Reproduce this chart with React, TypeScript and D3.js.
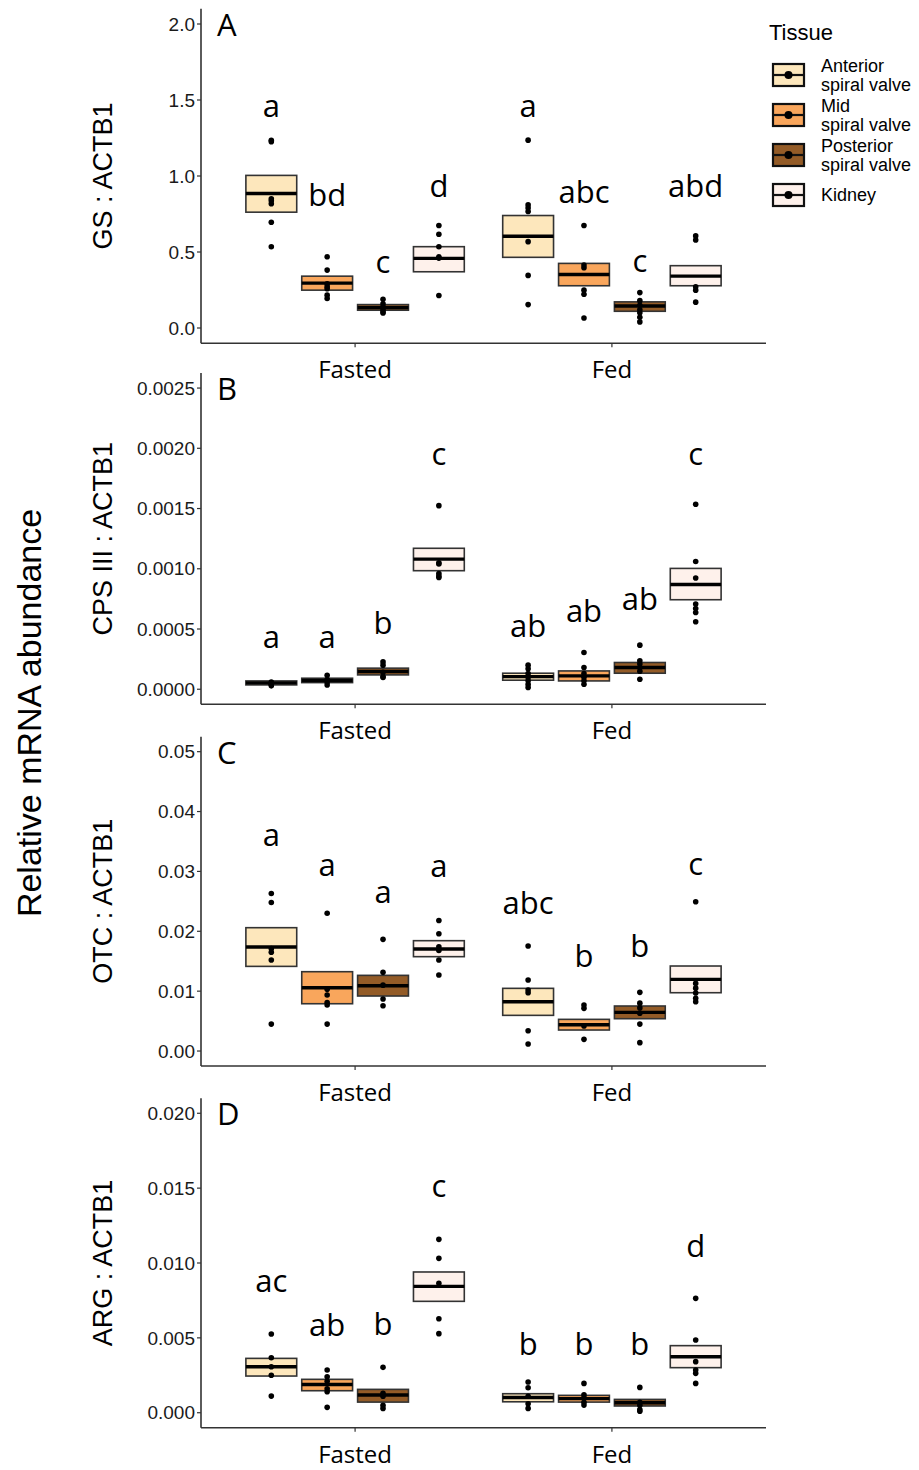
import React, { useEffect, useRef } from "react";
import * as d3 from "d3";

const conditions = ["Fasted", "Fed"];
const tissues = ["Anterior spiral valve", "Mid spiral valve", "Posterior spiral valve", "Kidney"];
const tissueLegend = [["Anterior", "spiral valve"], ["Mid", "spiral valve"], ["Posterior", "spiral valve"], ["Kidney"]];
const tissueColors = ["#FDE7BC", "#F9A65C", "#935B27", "#FEF1EB"];

// boxes: [lower, mean, upper] per condition, per tissue
const gsBoxes = [
  [[0.762, 0.885, 1.004], [0.249, 0.295, 0.341], [0.117, 0.134, 0.154], [0.37, 0.458, 0.535]],
  [[0.465, 0.604, 0.74], [0.278, 0.352, 0.425], [0.11, 0.145, 0.172], [0.278, 0.341, 0.41]],
];
const gsPoints = [
  [[1.235, 1.225, 0.85, 0.837, 0.817, 0.696, 0.535], [0.469, 0.381, 0.29, 0.271, 0.258, 0.216, 0.194], [0.189, 0.16, 0.14, 0.12, 0.105, 0.099], [0.674, 0.617, 0.535, 0.469, 0.46, 0.214]],
  [[1.236, 0.81, 0.789, 0.766, 0.568, 0.346, 0.154], [0.674, 0.414, 0.396, 0.249, 0.222, 0.066], [0.233, 0.18, 0.15, 0.12, 0.1, 0.07, 0.04], [0.606, 0.579, 0.271, 0.249, 0.17]],
];
const gsLetters = [["a", "bd", "c", "d"], ["a", "abc", "c", "abd"]];
const gsLetterY = [[1.39, 0.8, 0.36, 0.86], [1.39, 0.82, 0.37, 0.86]];

const cpsBoxes = [
  [[0.000036, 0.000053, 0.000069], [0.000055, 0.000072, 0.0000915], [0.000119, 0.000147, 0.000175], [0.000984, 0.00108, 0.00117]],
  [[0.000075, 0.000105, 0.000133], [0.000069, 0.000111, 0.000152], [0.000133, 0.00018, 0.000222], [0.000743, 0.00087, 0.001003]],
];
const cpsPoints = [
  [[0.00006, 0.00005, 0.000045, 0.00004, 0.000028], [0.000116, 0.00008, 0.00006, 0.000036], [0.000227, 0.0002, 0.00014, 0.000105, 0.000097], [0.001524, 0.00104, 0.00105, 0.00096, 0.00094, 0.000928]],
  [[0.0002, 0.00017, 0.00013, 0.0001, 0.00007, 0.00004, 0.000014], [0.000305, 0.00018, 0.00013, 0.0001, 0.00007, 0.000042], [0.000366, 0.000236, 0.00021, 0.00015, 0.000083], [0.001535, 0.00106, 0.000923, 0.000707, 0.00067, 0.000637, 0.00056]],
];
const cpsLetters = [["a", "a", "b", "c"], ["ab", "ab", "ab", "c"]];
const cpsLetterY = [[0.00034, 0.00034, 0.000455, 0.00186], [0.00043, 0.000554, 0.00066, 0.00186]];

const otcBoxes = [
  [[0.01414, 0.01737, 0.0206], [0.0079, 0.01058, 0.01325], [0.00919, 0.01091, 0.01264], [0.01576, 0.01704, 0.01843]],
  [[0.00596, 0.00824, 0.01047], [0.00351, 0.0044, 0.00529], [0.0054, 0.00646, 0.00752], [0.00974, 0.01197, 0.0142]],
];
const otcPoints = [
  [[0.0263, 0.0248, 0.0171, 0.0165, 0.0152, 0.0045], [0.023, 0.0103, 0.00935, 0.0081, 0.0077, 0.0045], [0.01865, 0.01314, 0.011, 0.0087, 0.00757], [0.0218, 0.0196, 0.0174, 0.0168, 0.0152, 0.0127]],
  [[0.01754, 0.01186, 0.0102, 0.00974, 0.0034, 0.00117], [0.00768, 0.00713, 0.0042, 0.00195], [0.0098, 0.008, 0.0072, 0.0063, 0.0045, 0.0014], [0.02494, 0.0113, 0.0105, 0.0097, 0.0088, 0.00824]],
];
const otcLetters = [["a", "a", "a", "a"], ["abc", "b", "b", "c"]];
const otcLetterY = [[0.03424, 0.02923, 0.02478, 0.029], [0.02288, 0.01398, 0.01576, 0.0294]];

const argBoxes = [
  [[0.00245, 0.00307, 0.00363], [0.00147, 0.00189, 0.00223], [0.00071, 0.00118, 0.00156], [0.00744, 0.00844, 0.0094]],
  [[0.00073, 0.00102, 0.00127], [0.00071, 0.00094, 0.00116], [0.00045, 0.00067, 0.00089], [0.00301, 0.00374, 0.00448]],
];
const argPoints = [
  [[0.00526, 0.00367, 0.00307, 0.0025, 0.00111], [0.00285, 0.0024, 0.0021, 0.0016, 0.0014, 0.00036], [0.00303, 0.0013, 0.0011, 0.0005, 0.00029], [0.01158, 0.01031, 0.00864, 0.00628, 0.00528]],
  [[0.00205, 0.00167, 0.0011, 0.0006, 0.00029], [0.00196, 0.0012, 0.001, 0.0007, 0.00051], [0.00169, 0.0007, 0.0005, 0.00022, 0.0001], [0.00764, 0.00486, 0.00341, 0.00285, 0.00263, 0.00196]],
];
const argLetters = [["ac", "ab", "b", "c"], ["b", "b", "b", "d"]];
const argLetterY = [[0.00804, 0.00512, 0.00519, 0.01439], [0.00385, 0.00385, 0.00385, 0.01042]];

const panels = [
  { tag: "A", title: "GS : ACTB1", max: 2, ticks: [0, 0.5, 1, 1.5, 2], fmt: ".1f", boxes: gsBoxes, points: gsPoints, letters: gsLetters, letterY: gsLetterY, top: 8.8, height: 334.4 },
  { tag: "B", title: "CPS III : ACTB1", max: 0.0025, ticks: [0, 0.0005, 0.001, 0.0015, 0.002, 0.0025], fmt: ".4f", boxes: cpsBoxes, points: cpsPoints, letters: cpsLetters, letterY: cpsLetterY, top: 373, height: 331.3 },
  { tag: "C", title: "OTC : ACTB1", max: 0.05, ticks: [0, 0.01, 0.02, 0.03, 0.04, 0.05], fmt: ".2f", boxes: otcBoxes, points: otcPoints, letters: otcLetters, letterY: otcLetterY, top: 736.7, height: 329.3 },
  { tag: "D", title: "ARG : ACTB1", max: 0.02, ticks: [0, 0.005, 0.01, 0.015, 0.02], fmt: ".3f", boxes: argBoxes, points: argPoints, letters: argLetters, letterY: argLetterY, top: 1098.3, height: 329.4 },
];

const W = 919;
const H = 1470;
const left = 201;
const right = 766;
const sans = "'Liberation Sans', Arial, sans-serif";
const calib = "'Open Sans', 'Noto Sans', sans-serif";
const axisColor = "#333";

function App() {
  const ref = useRef(null);

  useEffect(() => {
    if (!ref.current) return;
    ref.current.innerHTML = "";

    const svg = d3
      .select(ref.current)
      .append("svg")
      .attr("width", W)
      .attr("height", H)
      .style("position", "absolute")
      .style("left", 0)
      .style("top", 0)
      .style("background", "#fff");

    const x = d3.scalePoint().domain(conditions).range([left, right]).padding(0.6);
    const step = x.step();
    const dodge = d3.scaleBand().domain(tissues).range([-0.435 * step, 0.435 * step]);
    const boxW = dodge.bandwidth() * 0.91;

    panels.forEach((p) => {
      const y = d3
        .scaleLinear()
        .domain([-p.max * 0.05, p.max * 1.05])
        .range([p.top + p.height, p.top]);
      const bottom = p.top + p.height;
      const g = svg.append("g");

      // y axis
      g.append("line")
        .attr("x1", left).attr("x2", left)
        .attr("y1", p.top).attr("y2", bottom)
        .attr("stroke", axisColor).attr("stroke-width", 1.6);
      p.ticks.forEach((t) => {
        g.append("line")
          .attr("x1", left - 4).attr("x2", left)
          .attr("y1", y(t)).attr("y2", y(t))
          .attr("stroke", axisColor).attr("stroke-width", 1.2);
        g.append("text")
          .attr("x", left - 6)
          .attr("y", y(t))
          .attr("dy", "0.35em")
          .attr("text-anchor", "end")
          .style("font", `19px ${sans}`)
          .attr("fill", "#1a1a1a")
          .text(d3.format(p.fmt)(t));
      });

      // x axis
      g.append("line")
        .attr("x1", left).attr("x2", right)
        .attr("y1", bottom).attr("y2", bottom)
        .attr("stroke", axisColor).attr("stroke-width", 1.6);
      conditions.forEach((c) => {
        g.append("line")
          .attr("x1", x(c)).attr("x2", x(c))
          .attr("y1", bottom).attr("y2", bottom + 4)
          .attr("stroke", axisColor).attr("stroke-width", 1.2);
        g.append("text")
          .attr("x", x(c))
          .attr("y", bottom + 35)
          .attr("text-anchor", "middle")
          .style("font", `24px ${calib}`)
          .text(c);
      });

      // y title
      g.append("text")
        .attr("transform", `translate(112,${p.top + p.height / 2}) rotate(-90)`)
        .attr("text-anchor", "middle")
        .style("font", `27px ${sans}`)
        .text(p.title);

      // panel tag
      g.append("text")
        .attr("x", 217)
        .attr("y", p.top + 27)
        .style("font", `31px ${calib}`)
        .text(p.tag);

      conditions.forEach((c, ci) => {
        tissues.forEach((t, ti) => {
          const cx = x(c) + dodge(t) + dodge.bandwidth() / 2;
          const [lo, mid, hi] = p.boxes[ci][ti];
          g.append("rect")
            .attr("x", cx - boxW / 2)
            .attr("y", y(hi))
            .attr("width", boxW)
            .attr("height", y(lo) - y(hi))
            .attr("fill", tissueColors[ti])
            .attr("stroke", "#333")
            .attr("stroke-width", 1.6);
          g.append("line")
            .attr("x1", cx - boxW / 2).attr("x2", cx + boxW / 2)
            .attr("y1", y(mid)).attr("y2", y(mid))
            .attr("stroke", "#000").attr("stroke-width", 3.4);
          p.points[ci][ti].forEach((v) => {
            g.append("circle")
              .attr("cx", cx)
              .attr("cy", y(v))
              .attr("r", 2.8)
              .attr("fill", "#000");
          });
          g.append("text")
            .attr("x", cx)
            .attr("y", y(p.letterY[ci][ti]))
            .attr("text-anchor", "middle")
            .style("font", `31px ${calib}`)
            .text(p.letters[ci][ti]);
        });
      });
    });

    // global y title
    svg.append("text")
      .attr("transform", `translate(41,713) rotate(-90)`)
      .attr("text-anchor", "middle")
      .style("font", `34px ${sans}`)
      .text("Relative mRNA abundance");

    // legend
    const lg = svg.append("g");
    lg.append("text")
      .attr("x", 769)
      .attr("y", 40)
      .style("font", `22px ${sans}`)
      .text("Tissue");
    const keyY = d3.scalePoint().domain(tissues).range([75, 195]);
    tissues.forEach((t, i) => {
      const cy = keyY(t);
      lg.append("rect")
        .attr("x", 773).attr("y", cy - 11)
        .attr("width", 31).attr("height", 22)
        .attr("fill", tissueColors[i])
        .attr("stroke", "#111").attr("stroke-width", 2.2);
      lg.append("line")
        .attr("x1", 773).attr("x2", 804)
        .attr("y1", cy).attr("y2", cy)
        .attr("stroke", "#111").attr("stroke-width", 2.2);
      lg.append("circle")
        .attr("cx", 788.5).attr("cy", cy)
        .attr("r", 4)
        .attr("fill", "#000");
      const lines = tissueLegend[i];
      lines.forEach((ln, li) => {
        lg.append("text")
          .attr("x", 821)
          .attr("y", lines.length === 1 ? cy + 6 : cy - 3 + li * 19)
          .style("font", `18px ${sans}`)
          .text(ln);
      });
    });
  }, []);

  return <div ref={ref} />;
}

export default App;
